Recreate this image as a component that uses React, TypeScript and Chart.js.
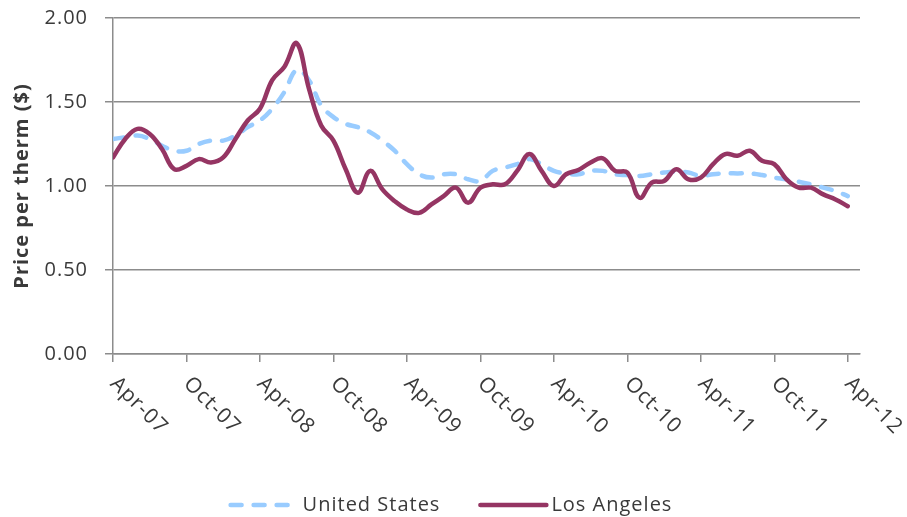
import React, { useEffect, useRef } from 'react';
import { Chart, registerables } from 'chart.js';

Chart.register(...registerables);

const months = [
  'Apr-07', 'May-07', 'Jun-07', 'Jul-07', 'Aug-07', 'Sep-07', 'Oct-07', 'Nov-07', 'Dec-07',
  'Jan-08', 'Feb-08', 'Mar-08', 'Apr-08', 'May-08', 'Jun-08', 'Jul-08', 'Aug-08', 'Sep-08',
  'Oct-08', 'Nov-08', 'Dec-08', 'Jan-09', 'Feb-09', 'Mar-09', 'Apr-09', 'May-09', 'Jun-09',
  'Jul-09', 'Aug-09', 'Sep-09', 'Oct-09', 'Nov-09', 'Dec-09', 'Jan-10', 'Feb-10', 'Mar-10',
  'Apr-10', 'May-10', 'Jun-10', 'Jul-10', 'Aug-10', 'Sep-10', 'Oct-10', 'Nov-10', 'Dec-10',
  'Jan-11', 'Feb-11', 'Mar-11', 'Apr-11', 'May-11', 'Jun-11', 'Jul-11', 'Aug-11', 'Sep-11',
  'Oct-11', 'Nov-11', 'Dec-11', 'Jan-12', 'Feb-12', 'Mar-12', 'Apr-12',
];

const unitedStates = [
  1.28, 1.29, 1.30, 1.28, 1.24, 1.21, 1.21, 1.25, 1.27, 1.27, 1.30, 1.35,
  1.39, 1.46, 1.56, 1.69, 1.63, 1.48, 1.41, 1.37, 1.35, 1.32, 1.27, 1.21,
  1.13, 1.07, 1.05, 1.07, 1.07, 1.04, 1.03, 1.09, 1.11, 1.13, 1.16, 1.13,
  1.09, 1.075, 1.07, 1.09, 1.09, 1.07, 1.065, 1.06, 1.07, 1.08, 1.085, 1.08,
  1.06, 1.07, 1.075, 1.075, 1.075, 1.065, 1.05, 1.04, 1.025, 1.01, 0.99, 0.97,
  0.94,
];

const losAngeles = [
  1.17, 1.28, 1.34, 1.31, 1.22, 1.10, 1.12, 1.16, 1.14, 1.17, 1.28, 1.39,
  1.46, 1.63, 1.71, 1.85, 1.58, 1.36, 1.27, 1.10, 0.96, 1.09, 0.98, 0.91,
  0.86, 0.84, 0.89, 0.94, 0.99, 0.90, 0.99, 1.01, 1.01, 1.09, 1.19, 1.09,
  1.00, 1.07, 1.095, 1.14, 1.165, 1.09, 1.08, 0.93, 1.02, 1.03, 1.10, 1.04,
  1.05, 1.13, 1.19, 1.18, 1.21, 1.15, 1.13, 1.04, 0.99, 0.99, 0.95, 0.92,
  0.88,
];

const seriesNames = ['United States', 'Los Angeles'];
const yAxisTitle = 'Price per therm ($)';

const FONT = "'Open Sans', 'Noto Sans', sans-serif";
const TEXT = '#3a3a3a';
const GRID = '#8c8c8c';
const US_COLOR = '#99CCFF';
const LA_COLOR = '#953563';
const US_DASH = [11, 12];

const spacing = {
  id: 'spacing',
  beforeInit(chart: any) { chart.ctx.letterSpacing = '1px'; },
  beforeDraw(chart: any) { chart.ctx.letterSpacing = '1px'; },
};

const diagonalLabels = {
  id: 'diagonalLabels',
  afterDraw(chart: any) {
    const xs = chart.scales.x;
    const ctx = chart.ctx;
    ctx.save();
    ctx.font = `21px ${FONT}`;
    ctx.fillStyle = TEXT;
    ctx.textAlign = 'left';
    ctx.textBaseline = 'top';
    for (const t of xs.ticks) {
      const label = months[t.value];
      if (!label) continue;
      const px = xs.getPixelForValue(t.value);
      ctx.save();
      ctx.translate(px + 8, xs.top + 19);
      ctx.rotate(Math.PI / 4);
      ctx.fillText(label, 0, 0);
      ctx.restore();
    }
    ctx.restore();
  },
};

const bottomLegend = {
  id: 'bottomLegend',
  afterDraw(chart: any) {
    const ctx = chart.ctx;
    const ds = chart.data.datasets;
    ctx.save();
    ctx.font = `20px ${FONT}`;
    ctx.textBaseline = 'middle';
    ctx.textAlign = 'left';
    const y = chart.height - 12;
    const sampleW = [62, 70];
    const textGap = [12, 3];
    const itemGap = 38;
    const widths = ds.map((d: any, i: number) => sampleW[i] + textGap[i] + ctx.measureText(d.label).width);
    const total = widths[0] + itemGap + widths[1];
    let x = chart.width / 2 - 3 - total / 2;
    ds.forEach((d: any, i: number) => {
      ctx.save();
      ctx.strokeStyle = d.borderColor;
      ctx.lineWidth = d.borderWidth;
      ctx.lineCap = d.borderCapStyle || 'butt';
      ctx.setLineDash(d.borderDash || []);
      ctx.beginPath();
      ctx.moveTo(x + 2, y);
      ctx.lineTo(x + sampleW[i] - 2, y);
      ctx.stroke();
      ctx.restore();
      ctx.fillStyle = TEXT;
      ctx.fillText(d.label, x + sampleW[i] + textGap[i], y);
      x += widths[i] + itemGap;
    });
    ctx.restore();
  },
};

export default function App() {
  const ref = useRef<HTMLCanvasElement | null>(null);

  useEffect(() => {
    if (!ref.current) return;
    const chart = new Chart(ref.current, {
      type: 'line',
      data: {
        datasets: [
          {
            label: seriesNames[0],
            data: unitedStates.map((y, i) => ({ x: i, y })),
            borderColor: US_COLOR,
            backgroundColor: US_COLOR,
            borderWidth: 4.5,
            borderDash: US_DASH,
            borderCapStyle: 'round',
            pointRadius: 0,
            tension: 0.4,
            fill: false,
            order: 1,
          },
          {
            label: seriesNames[1],
            data: losAngeles.map((y, i) => ({ x: i, y })),
            borderColor: LA_COLOR,
            backgroundColor: LA_COLOR,
            borderWidth: 4.5,
            borderCapStyle: 'round',
            borderJoinStyle: 'round',
            pointRadius: 0,
            tension: 0.4,
            fill: false,
            order: 0,
          },
        ],
      },
      options: {
        animation: false,
        responsive: true,
        maintainAspectRatio: false,
        layout: { padding: { left: 0, right: 47, top: 18, bottom: 0 } },
        plugins: {
          tooltip: { enabled: false },
          legend: { display: false },
        },
        scales: {
          x: {
            type: 'linear',
            min: 0,
            max: 61,
            ticks: { stepSize: 6, includeBounds: false, display: false },
            grid: { drawOnChartArea: false, drawTicks: true, tickLength: 8, color: GRID, lineWidth: 1.5 },
            border: { color: GRID, width: 1.5 },
            afterFit: (s: any) => { s.height = 163; s.paddingLeft = 0; s.paddingRight = 0; },
          },
          y: {
            min: 0,
            max: 2,
            ticks: {
              stepSize: 0.5,
              callback: (v: any) => Number(v).toFixed(2),
              font: { family: FONT, size: 20 },
              color: TEXT,
              padding: 17,
            },
            grid: { color: GRID, lineWidth: 1.5, tickLength: 8 },
            border: { color: GRID, width: 1.5 },
            title: {
              display: true,
              text: yAxisTitle,
              font: { family: FONT, size: 20, weight: 'bold' },
              color: TEXT,
              padding: { top: 10, bottom: 0 },
            },
            afterFit: (s: any) => { s.width = 113; s.paddingTop = 0; s.paddingBottom = 0; },
          },
        },
      },
      plugins: [spacing, diagonalLabels, bottomLegend],
    } as any);
    return () => chart.destroy();
  }, []);

  return (
    <div style={{ position: 'fixed', left: 0, top: 0, width: 907, height: 517, background: '#fff' }}>
      <canvas ref={ref} />
    </div>
  );
}
